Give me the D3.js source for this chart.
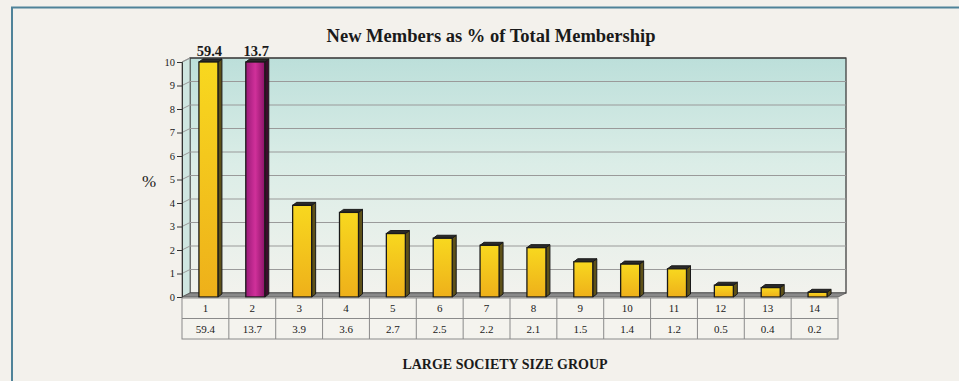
<!DOCTYPE html>
<html><head><meta charset="utf-8">
<script src="https://cdn.jsdelivr.net/npm/d3@7"></script>
<style>
html,body{margin:0;padding:0;background:#f3f1ec;}
svg{display:block;}
text{font-family:"Liberation Serif","Times New Roman",serif;fill:#1a1a1a;}
</style></head>
<body>
<svg id="chart" width="959" height="381"></svg>
<script>
const categories = ["1","2","3","4","5","6","7","8","9","10","11","12","13","14"];
const values = [59.4,13.7,3.9,3.6,2.7,2.5,2.2,2.1,1.5,1.4,1.2,0.5,0.4,0.2];
const valueLabels = ["59.4","13.7","3.9","3.6","2.7","2.5","2.2","2.1","1.5","1.4","1.2","0.5","0.4","0.2"];
const highlight = ["2"];
const yTicks = [0,1,2,3,4,5,6,7,8,9,10];
const title = "New Members as % of Total Membership";
const xTitle = "LARGE SOCIETY SIZE GROUP";
const yTitle = "%";

const svg = d3.select("#chart");
const W = 959, H = 381;
svg.append("rect").attr("width",W).attr("height",H).attr("fill","#f3f1ec");
svg.append("rect").attr("x",12).attr("y",7.5).attr("width",960).attr("height",400)
  .attr("fill","none").attr("stroke","#4f8399").attr("stroke-width",2);

const left = 182, right = 838, y0 = 297, y10 = 62;
const DX = 8, DY = -4;
const x = d3.scaleBand().domain(categories).range([left,right]).padding(0);
const y = d3.scaleLinear().domain([0,10]).range([y0,y10]);
const ymax = 10;

const defs = svg.append("defs");
const wallG = defs.append("linearGradient").attr("id","wall").attr("x1",0).attr("y1",0).attr("x2",0).attr("y2",1);
wallG.append("stop").attr("offset","0%").attr("stop-color","#bcdfda");
wallG.append("stop").attr("offset","45%").attr("stop-color","#dbede7");
wallG.append("stop").attr("offset","100%").attr("stop-color","#f2f2ed");
const yelG = defs.append("linearGradient").attr("id","yel").attr("x1",0).attr("y1",0).attr("x2",0).attr("y2",1);
yelG.append("stop").attr("offset","0%").attr("stop-color","#f8d81f");
yelG.append("stop").attr("offset","100%").attr("stop-color","#eeb01a");
const magG = defs.append("linearGradient").attr("id","mag").attr("x1",0).attr("y1",0).attr("x2",1).attr("y2",0);
magG.append("stop").attr("offset","0%").attr("stop-color","#9a1a78");
magG.append("stop").attr("offset","50%").attr("stop-color","#d0309a");
magG.append("stop").attr("offset","100%").attr("stop-color","#8c1468");

svg.append("rect").attr("x",left+DX).attr("y",y(ymax)+DY).attr("width",right-left).attr("height",y(0)-y(ymax))
  .attr("fill","url(#wall)").attr("stroke","#333").attr("stroke-width",1.2);
svg.append("path").attr("d",`M${left},${y(0)}L${left+DX},${y(0)+DY}L${left+DX},${y(ymax)+DY}L${left},${y(ymax)}Z`)
  .attr("fill","#cfe6e1").attr("stroke","#555").attr("stroke-width",0.8);
const grid = svg.append("g");
yTicks.filter(t=>t>0).forEach(t=>{
  grid.append("line").attr("x1",left+DX).attr("x2",right+DX).attr("y1",y(t)+DY).attr("y2",y(t)+DY)
    .attr("stroke",t===ymax?"#444":"#9a9a9a").attr("stroke-width",t===ymax?1.2:1.1);
  grid.append("line").attr("x1",left).attr("x2",left+DX).attr("y1",y(t)).attr("y2",y(t)+DY)
    .attr("stroke","#9a9a9a").attr("stroke-width",1);
});
svg.append("path").attr("d",`M${left},${y(0)}L${left+DX},${y(0)+DY}L${right+DX},${y(0)+DY}L${right},${y(0)}Z`)
  .attr("fill","#8a8a8a").attr("stroke","#555").attr("stroke-width",0.8);

const yAxis = d3.axisLeft(y).tickValues(yTicks).tickSize(5).tickPadding(2).tickFormat(d3.format("d"));
const ya = svg.append("g").attr("transform",`translate(${left},0)`).call(yAxis);
ya.select(".domain").attr("stroke","#333");
ya.selectAll(".tick line").attr("stroke","#333");
ya.selectAll(".tick text").attr("font-size",10.5).attr("font-family","'Liberation Serif',serif").attr("fill","#1a1a1a");

const FW = 19, SW = 4, TH = 3, OFF = 3;
const bars = svg.append("g");
categories.forEach((c,i)=>{
  const v = Math.min(values[i], ymax);
  const cx = x(c) + x.bandwidth()/2 + OFF;
  const fx = cx - FW/2, ft = y(v), fb = y(0);
  const hi = highlight.includes(c);
  bars.append("path").attr("d",`M${fx+FW},${fb}L${fx+FW+SW},${fb-TH}L${fx+FW+SW},${ft-TH}L${fx+FW},${ft}Z`)
    .attr("fill",hi?"#3c0c2c":"#5e5118").attr("stroke","#1a1a1a").attr("stroke-width",1);
  bars.append("path").attr("d",`M${fx},${ft}L${fx+SW},${ft-TH}L${fx+FW+SW},${ft-TH}L${fx+FW},${ft}Z`)
    .attr("fill","#2a2a2a").attr("stroke","#1a1a1a").attr("stroke-width",1);
  bars.append("rect").attr("x",fx).attr("y",ft).attr("width",FW).attr("height",fb-ft)
    .attr("fill",hi?"url(#mag)":"url(#yel)").attr("stroke","#1a1a1a").attr("stroke-width",1.3);
  if (values[i] > ymax) {
    svg.append("text").attr("x",cx+1).attr("y",ft-6.5).attr("text-anchor","middle")
      .attr("font-size",14.5).attr("font-weight","bold").text(valueLabels[i]);
  }
});

const tTop = 298, rowH = 20.5;
const tbl = svg.append("g");
tbl.append("rect").attr("x",left).attr("y",tTop).attr("width",right-left).attr("height",rowH*2)
  .attr("fill","#f4f3ee").attr("stroke","#8a8a8a").attr("stroke-width",1);
tbl.append("line").attr("x1",left).attr("x2",right).attr("y1",tTop+rowH).attr("y2",tTop+rowH)
  .attr("stroke","#8a8a8a");
categories.forEach((c,i)=>{
  if (i>0) tbl.append("line").attr("x1",x(c)).attr("x2",x(c)).attr("y1",tTop).attr("y2",tTop+rowH*2).attr("stroke","#8a8a8a");
  const cx = x(c)+x.bandwidth()/2;
  tbl.append("text").attr("x",cx).attr("y",tTop+14).attr("text-anchor","middle").attr("font-size",11).text(c);
  tbl.append("text").attr("x",cx).attr("y",tTop+rowH+14).attr("text-anchor","middle").attr("font-size",11).text(valueLabels[i]);
});

svg.append("text").attr("x",491).attr("y",42).attr("text-anchor","middle").attr("font-size",18.5)
  .attr("font-weight","bold").text(title);
svg.append("text").attr("x",505).attr("y",369).attr("text-anchor","middle").attr("font-size",14)
  .attr("font-weight","bold").text(xTitle);
svg.append("text").attr("x",149).attr("y",187).attr("text-anchor","middle").attr("font-size",17)
  .attr("fill","#333").text(yTitle);
</script>
</body></html>
